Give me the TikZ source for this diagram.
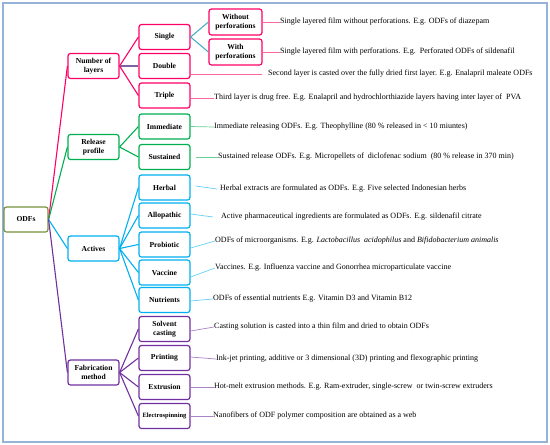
\documentclass[tikz,border=0pt]{standalone}
\usepackage{fontspec}
\setmainfont{Liberation Serif}
\definecolor{odf-olive}{HTML}{77933C}
\definecolor{layer-pink}{HTML}{FF0066}
\definecolor{release-green}{HTML}{00B050}
\definecolor{active-blue}{HTML}{00B0F0}
\definecolor{fab-purple}{HTML}{7030A0}
\definecolor{split-teal}{HTML}{4BACC6}
\definecolor{double-lilac}{HTML}{8064A2}
\definecolor{frame-blue}{HTML}{95B3D7}

\begin{document}
\begin{tikzpicture}[x=1pt, y=-1pt,
        box/.style={draw, line width=1.2pt, rounded corners=2.5pt, fill=white,
            minimum width=51pt, minimum height=25pt, inner sep=1pt, align=center,
            font=\fontsize{7.6}{8.6}\selectfont\bfseries},
        note/.style={anchor=west, inner sep=0pt, font=\fontsize{8}{9}\selectfont},
        link/.style={line width=1.1pt},
        lead/.style={line width=0.7pt}]
      \useasboundingbox (0,0) rectangle (550,445);
      \draw[frame-blue, line width=1.5pt] (3,3) rectangle (547,442);
      % root
      \node[box, draw=odf-olive, minimum width=44pt] (ODF) at (26,219.5) {ODFs};
      % first level
      \node[box, draw=layer-pink] (NUM) at (93.5,66) {Number of\\layers};
      \node[box, draw=release-green] (REL) at (93.5,147) {Release\\profile};
      \node[box, draw=active-blue] (ACT) at (93.5,248.5) {Actives};
      \node[box, draw=fab-purple] (FAB) at (93.5,372.5) {Fabrication\\method};
      \draw[link, layer-pink] (ODF.east) -- (NUM.west);
      \draw[link, release-green] (ODF.east) -- (REL.west);
      \draw[link, active-blue] (ODF.east) -- (ACT.west);
      \draw[link, fab-purple] (ODF.east) -- (FAB.west);
      % number of layers
      \node[box, draw=layer-pink] (SGL) at (164.5,37) {Single};
      \node[box, draw=layer-pink] (DBL) at (164.5,66) {Double};
      \node[box, draw=layer-pink] (TRP) at (164.5,95.5) {Triple};
      \draw[link, layer-pink] (NUM.east) -- (SGL.west);
      \draw[link, double-lilac] (NUM.east) -- (DBL.west);
      \draw[link, layer-pink] (NUM.east) -- (TRP.west);
      \node[box, draw=layer-pink, minimum width=53pt, minimum height=26pt]
            (WO) at (235.5,22) {Without\\perforations};
      \node[box, draw=layer-pink, minimum width=53pt, minimum height=26pt]
            (WI) at (235.5,52) {With\\perforations};
      \draw[link, split-teal] (SGL.east) -- (WO.west);
      \draw[link, split-teal] (SGL.east) -- (WI.west);
      \node[note] (WOtxt) at (280,22) {Single layered film without perforations. E.g. ODFs of diazepam};
      \node[note] (WItxt) at (280,52) {Single layered film with perforations. E.g.\ \ Perforated ODFs of sildenafil};
      \node[note] (DBLtxt) at (268,74) {Second layer is casted over the fully dried first layer. E.g. Enalapril maleate ODFs};
      \node[note] (TRPtxt) at (214,98) {Third layer is drug free. E.g. Enalapril and hydrochlorthiazide layers having inter layer of\ \ PVA};
      \draw[lead, layer-pink!60] (WO.east) -- (WOtxt.west);
      \draw[lead, layer-pink!60] (WI.east) -- (WItxt.west);
      \draw[lead, layer-pink!60] ([yshift=-8pt]DBL.east) -- ([xshift=-6pt]DBLtxt.west);
      \draw[lead, layer-pink!60] ([yshift=-2.5pt]TRP.east) -- (TRPtxt.west);
      % release profile
      \node[box, draw=release-green] (IMM) at (164.5,126.5) {Immediate};
      \node[box, draw=release-green] (SUS) at (164.5,157) {Sustained};
      \draw[link, release-green] (REL.east) -- (IMM.west);
      \draw[link, release-green] (REL.east) -- (SUS.west);
      \node[note] (IMMtxt) at (214,127) {Immediate releasing ODFs. E.g. Theophylline (80 \% released in < 10 miuntes)};
      \node[note] (SUStxt) at (218,157) {Sustained release ODFs. E.g. Micropellets of\ \ diclofenac sodium\ \ (80 \% release in 370 min)};
      \draw[lead, release-green!60] (IMM.east) -- (IMMtxt.west);
      \draw[lead, release-green!60] ([xshift=5pt]SUS.east) -- (SUStxt.west);
      % actives
      \node[box, draw=active-blue] (HRB) at (164.5,187.5) {Herbal};
      \node[box, draw=active-blue] (ALP) at (164.5,215.5) {Allopathic};
      \node[box, draw=active-blue] (PRB) at (164.5,244.5) {Probiotic};
      \node[box, draw=active-blue] (VAC) at (164.5,272.5) {Vaccine};
      \node[box, draw=active-blue] (NUT) at (164.5,300) {Nutrients};
      \foreach \kid in {HRB, ALP, PRB, VAC, NUT}
        \draw[link, active-blue] (ACT.east) -- (\kid.west);
      \node[note] (HRBtxt) at (220,189) {Herbal extracts are formulated as ODFs. E.g. Five selected Indonesian herbs};
      \node[note] (ALPtxt) at (221,217) {Active pharmaceutical ingredients are formulated as ODFs. E.g. sildenafil citrate};
      \node[note] (PRBtxt) at (215,241) {ODFs of microorganisms. E.g. \textit{Lactobacillus\ \ acidophilus} and \textit{Bifidobacterium animalis}};
      \node[note] (VACtxt) at (215,268) {Vaccines. E.g. Influenza vaccine and Gonorrhea microparticulate vaccine};
      \node[note] (NUTtxt) at (213,299) {ODFs of essential nutrients E.g. Vitamin D3 and Vitamin B12};
      \draw[lead, active-blue!60] ([xshift=5pt,yshift=1.5pt]HRB.east) -- ([xshift=-3pt]HRBtxt.west);
      \draw[lead, active-blue!60] ([yshift=1.5pt]ALP.east) -- ([xshift=-8pt]ALPtxt.west);
      \draw[lead, active-blue!60] ([yshift=-3.5pt]PRB.east) -- (PRBtxt.west);
      \draw[lead, active-blue!60] ([yshift=-4.5pt]VAC.east) -- (VACtxt.west);
      \draw[lead, active-blue!60] ([yshift=-1pt]NUT.east) -- (NUTtxt.west);
      % fabrication method
      \node[box, draw=fab-purple] (SOL) at (164.5,329) {Solvent\\casting};
      \node[box, draw=fab-purple] (PRN) at (164.5,358) {Printing};
      \node[box, draw=fab-purple] (EXT) at (164.5,387) {Extrusion};
      \node[box, draw=fab-purple, font=\fontsize{6.5}{7.5}\selectfont\bfseries] (ELE) at (164.5,416) {Electrospinning};
      \foreach \kid in {SOL, PRN, EXT, ELE}
        \draw[link, fab-purple] (FAB.east) -- (\kid.west);
      \node[note] (SOLtxt) at (214,327) {Casting solution is casted into a thin film and dried to obtain ODFs};
      \node[note] (PRNtxt) at (216,359) {Ink-jet printing, additive or 3 dimensional (3D) printing and flexographic printing};
      \node[note] (EXTtxt) at (214,387) {Hot-melt extrusion methods. E.g. Ram-extruder, single-screw\ \ or twin-screw extruders};
      \node[note] (ELEtxt) at (213,416) {Nanofibers of ODF polymer composition are obtained as a web};
      \draw[lead, fab-purple!60] ([yshift=-2pt]SOL.east) -- (SOLtxt.west);
      \draw[lead, fab-purple!60] ([yshift=1pt]PRN.east) -- (PRNtxt.west);
      \draw[lead, fab-purple!60] (EXT.east) -- (EXTtxt.west);
      \draw[lead, fab-purple!60] (ELE.east) -- (ELEtxt.west);
    \end{tikzpicture}
\end{document}
